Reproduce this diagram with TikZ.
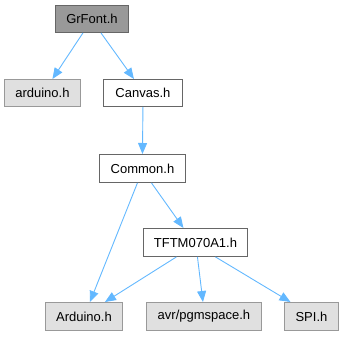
\documentclass[tikz,border=0pt]{standalone}
\usepackage{fontspec}
\setmainfont{Liberation Sans}
\usetikzlibrary{arrows.meta}
\definecolor{edgeblue}{HTML}{63B8FF}
\tikzset{
  x=1pt, y=-1pt,
  filebox/.style={draw=black!60, fill=white, line width=0.9pt, inner sep=0pt,
    font=\fontsize{13}{13}\selectfont, anchor=north west},
  extbox/.style={filebox, draw=black!40, fill=black!12},
  rootbox/.style={filebox, draw=black!60, fill=black!40},
  dep/.style={draw=edgeblue, line width=0.9pt, -{Triangle[length=11pt,width=9pt]}},
}
\newcommand{\fbx}[6]{% style, name, x0, y0, x1, y1, text
  \node[#1, minimum width=#5-#3, minimum height=#6-#4] (#2) at (#3,#4)}
\begin{document}
\begin{tikzpicture}
\useasboundingbox (0,0) rectangle (344,336);
\fbx{rootbox}{grfont}{55}{5}{128}{32} {GrFont.h};
\fbx{extbox}{arduinolc}{4}{79}{80}{106} {arduino.h};
\fbx{filebox}{canvas}{103}{79}{182}{106} {Canvas.h};
\fbx{filebox}{common}{99}{154}{185}{182} {Common.h};
\fbx{filebox}{tftm}{143}{228}{247}{256} {TFTM070A1.h};
\fbx{extbox}{arduino}{45}{302}{122}{330} {Arduino.h};
\fbx{extbox}{avr}{146}{302}{261}{330} {avr/pgmspace.h};
\fbx{extbox}{spi}{284}{302}{338}{330} {SPI.h};

\draw[dep] ([xshift=-9pt]grfont.south) -- ([xshift=10pt]arduinolc.north);
\draw[dep] ([xshift=9pt]grfont.south) -- ([xshift=-9pt]canvas.north);
\draw[dep] ([xshift=0pt]canvas.south) -- ([xshift=0pt]common.north);
\draw[dep] ([xshift=-5pt]common.south) -- ([xshift=6pt]arduino.north);
\draw[dep] ([xshift=9pt]common.south) -- ([xshift=-12pt]tftm.north);
\draw[dep] ([xshift=-19pt]tftm.south) -- ([xshift=21pt]arduino.north);
\draw[dep] ([xshift=2pt]tftm.south) -- ([xshift=-1pt]avr.north);
\draw[dep] ([xshift=20pt]tftm.south) -- ([xshift=-21pt]spi.north);
\end{tikzpicture}
\end{document}
